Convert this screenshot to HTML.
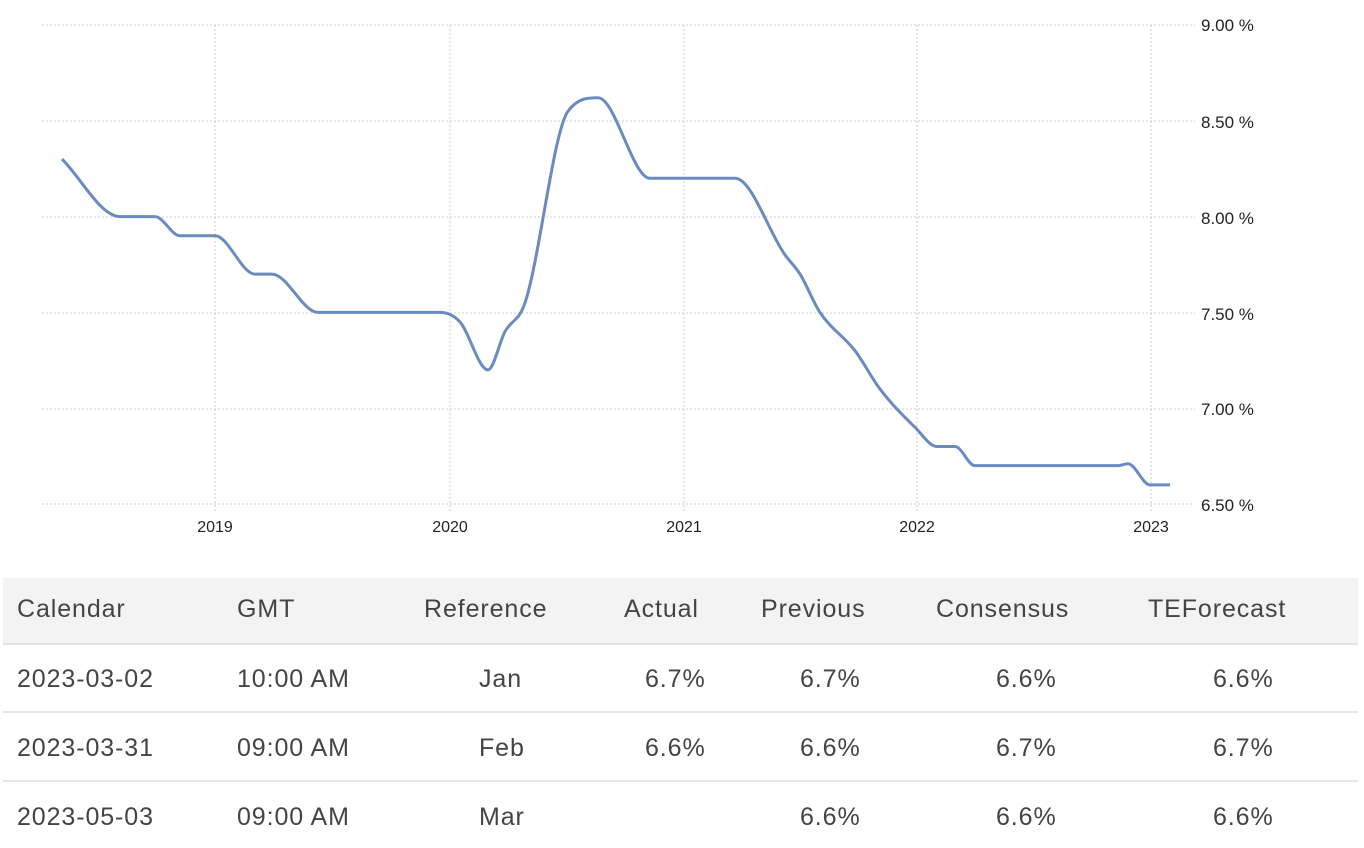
<!DOCTYPE html>
<html><head><style>
body{margin:0;width:1364px;height:848px;background:#fff;overflow:hidden;font-family:"Liberation Sans",sans-serif;position:relative}
.t{position:absolute;font-size:25px;letter-spacing:0.9px;color:#444;white-space:nowrap;line-height:1}
.hd{position:absolute;left:3px;top:578px;width:1355px;height:65px;background:#f3f3f3;border-bottom:2px solid #e2e2e2}
.sep{position:absolute;left:3px;width:1355px;height:2px;background:#e6e6e6}
</style></head><body>
<svg width="1364" height="560" style="position:absolute;left:0;top:0">
<g stroke="#ccc" stroke-dasharray="2,2" stroke-width="1">
<line x1="42" x2="1195" y1="25" y2="25"/><line x1="42" x2="1195" y1="121" y2="121"/>
<line x1="42" x2="1195" y1="217" y2="217"/><line x1="42" x2="1195" y1="313" y2="313"/>
<line x1="42" x2="1195" y1="409" y2="409"/><line x1="42" x2="1195" y1="504" y2="504"/>
<line x1="215" x2="215" y1="25" y2="512"/><line x1="450" x2="450" y1="25" y2="512"/>
<line x1="684" x2="684" y1="25" y2="512"/><line x1="917" x2="917" y1="25" y2="512"/>
<line x1="1151" x2="1151" y1="25" y2="512"/>
</g>
<g font-family="Liberation Sans,sans-serif" font-size="17" fill="#222">
<text x="1201" y="31">9.00 %</text><text x="1201" y="128">8.50 %</text>
<text x="1201" y="224">8.00 %</text><text x="1201" y="320">7.50 %</text>
<text x="1201" y="415">7.00 %</text><text x="1201" y="511">6.50 %</text>
<g text-anchor="middle" font-size="16"><text x="215" y="532">2019</text><text x="450" y="532">2020</text><text x="684" y="532">2021</text><text x="917" y="532">2022</text><text x="1151" y="532">2023</text></g>
</g>
<path id="ln" fill="none" stroke="#6a8bbf" stroke-width="3" stroke-linejoin="round"/>
</svg>
<div class="hd"></div>
<div class="sep" style="top:711px"></div><div class="sep" style="top:780px"></div>
<div class="t" style="left:17px;top:597px">Calendar</div>
<div class="t" style="left:237px;top:597px">GMT</div>
<div class="t" style="left:424px;top:597px">Reference</div>
<div class="t" style="left:624px;top:597px">Actual</div>
<div class="t" style="left:761px;top:597px">Previous</div>
<div class="t" style="left:936px;top:597px">Consensus</div>
<div class="t" style="left:1148px;top:597px">TEForecast</div>

<div class="t" style="left:17px;top:667px">2023-03-02</div><div class="t" style="left:237px;top:667px">10:00 AM</div><div class="t" style="left:479px;top:667px">Jan</div><div class="t" style="left:645px;top:667px">6.7%</div><div class="t" style="left:800px;top:667px">6.7%</div><div class="t" style="left:996px;top:667px">6.6%</div><div class="t" style="left:1213px;top:667px">6.6%</div>
<div class="t" style="left:17px;top:736px">2023-03-31</div><div class="t" style="left:237px;top:736px">09:00 AM</div><div class="t" style="left:479px;top:736px">Feb</div><div class="t" style="left:645px;top:736px">6.6%</div><div class="t" style="left:800px;top:736px">6.6%</div><div class="t" style="left:996px;top:736px">6.7%</div><div class="t" style="left:1213px;top:736px">6.7%</div>
<div class="t" style="left:17px;top:805px">2023-05-03</div><div class="t" style="left:237px;top:805px">09:00 AM</div><div class="t" style="left:479px;top:805px">Mar</div><div class="t" style="left:800px;top:805px">6.6%</div><div class="t" style="left:996px;top:805px">6.6%</div><div class="t" style="left:1213px;top:805px">6.6%</div>
<script>
var d=[[62,8.3],[120,8.0],[155,8.0],[180,7.9],[215,7.9],[255,7.7],[272,7.7],[318,7.5],[340,7.5],[440,7.5],[460,7.45],[488,7.2],[505,7.4],[525,7.55],[568,8.55],[598,8.62],[650,8.2],[675,8.2],[735,8.2],[785,7.8],[800,7.7],[820,7.5],[855,7.3],[880,7.1],[915,6.9],[937,6.8],[955,6.8],[975,6.7],[1118,6.7],[1128,6.71],[1150,6.6],[1170,6.6]];
var p=d.map(function(a){return [a[0],504-(a[1]-6.5)*191.6]});
var n=p.length,m=[],dl=[];
for(var i=0;i<n-1;i++)dl.push((p[i+1][1]-p[i][1])/(p[i+1][0]-p[i][0]));
m[0]=dl[0];m[n-1]=dl[n-2];
for(var i=1;i<n-1;i++){m[i]=(dl[i-1]*dl[i]<=0)?0:(dl[i-1]+dl[i])/2;}
for(var i=0;i<n-1;i++){if(dl[i]==0){m[i]=0;m[i+1]=0;continue;}var a=m[i]/dl[i],b=m[i+1]/dl[i],h=a*a+b*b;if(h>9){var t=3/Math.sqrt(h);m[i]=t*a*dl[i];m[i+1]=t*b*dl[i];}}
var s="M"+p[0][0]+","+p[0][1];
for(var i=0;i<n-1;i++){var h=(p[i+1][0]-p[i][0])/3;
s+=" C"+(p[i][0]+h)+","+(p[i][1]+m[i]*h)+" "+(p[i+1][0]-h)+","+(p[i+1][1]-m[i+1]*h)+" "+p[i+1][0]+","+p[i+1][1];}
document.getElementById("ln").setAttribute("d",s);
</script>
</body></html>
